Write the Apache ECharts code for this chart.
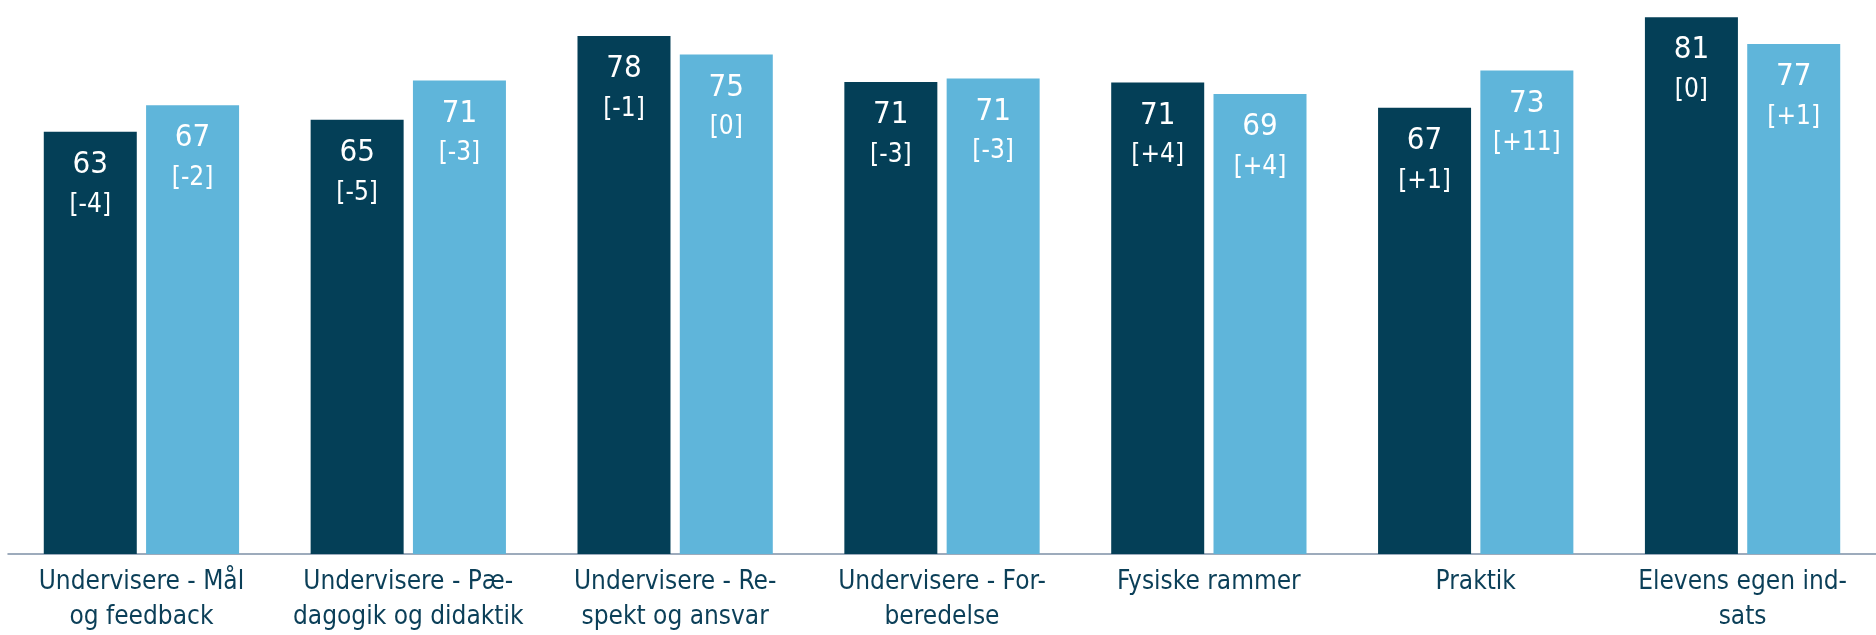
<!DOCTYPE html>
<html>
<head>
<meta charset="utf-8">
<script src="https://cdn.jsdelivr.net/npm/echarts@6/dist/echarts.min.js"></script>
<style>
  html, body { margin: 0; padding: 0; background: #fff; }
  #chart { width: 1876px; height: 635px; }
</style>
</head>
<body>
<div id="chart"></div>
<script>
// kategorier (med orddeling som i originalen)
var categories = [
    'Undervisere - Mål\nog feedback',
    'Undervisere - Pæ-\ndagogik og didaktik',
    'Undervisere - Re-\nspekt og ansvar',
    'Undervisere - For-\nberedelse',
    'Fysiske rammer',
    'Praktik',
    'Elevens egen ind-\nsats'
]
// aflæst fra søjlehøjderne, vises afrundet
var darkValues = [63.4, 65.2, 77.8, 70.9, 70.8, 67.0, 80.6]
var darkDiffs = ['-4', '-5', '-1', '-3', '+4', '+1', '0']
var lightValues = [67.4, 71.1, 75.0, 71.4, 69.1, 72.6, 76.6]
var lightDiffs = ['-2', '-3', '0', '-3', '+4', '+11', '+1']

var font = '"DejaVu Sans Condensed", "DejaVu Sans", sans-serif'

function barLabel(diffs) {
    return {
        show: true,
        position: 'insideTop',
        distance: 13,
        color: '#fff',
        fontFamily: font,
        formatter: function (p) {
            return '{v|' + Math.round(p.value) + '}\n{d|[' + diffs[p.dataIndex] + ']}'
        },
        rich: {
            v: { fontSize: 31, lineHeight: 40, color: '#fff', fontFamily: font },
            d: { fontSize: 26, lineHeight: 40, color: '#fff', fontFamily: font }
        }
    }
}

var chart = echarts.init(document.getElementById('chart'))
chart.setOption({
    animation: false,
    grid: {
        top: 0,
        left: 8,
        right: 0,
        bottom: 80
    },
    xAxis: {
        type: 'category',
        data: categories,
        axisLine: { lineStyle: { color: '#7d90a6', width: 1.5 } },
        axisTick: { show: false },
        axisLabel: {
            interval: 0,
            margin: 11,
            color: '#0b3f58',
            fontSize: 26,
            lineHeight: 35,
            fontFamily: font
        }
    },
    yAxis: {
        type: 'value',
        min: 0,
        max: 83.2,
        show: false,
        splitLine: { show: false }
    },
    series: [{
        type: 'bar',
        data: darkValues,
        barWidth: 93,
        barGap: '10%',
        itemStyle: { color: '#043f57' },
        label: barLabel(darkDiffs)
    }, {
        type: 'bar',
        data: lightValues,
        barWidth: 93,
        itemStyle: { color: '#5fb5da' },
        label: barLabel(lightDiffs)
    }]
})
</script>
</body>
</html>
